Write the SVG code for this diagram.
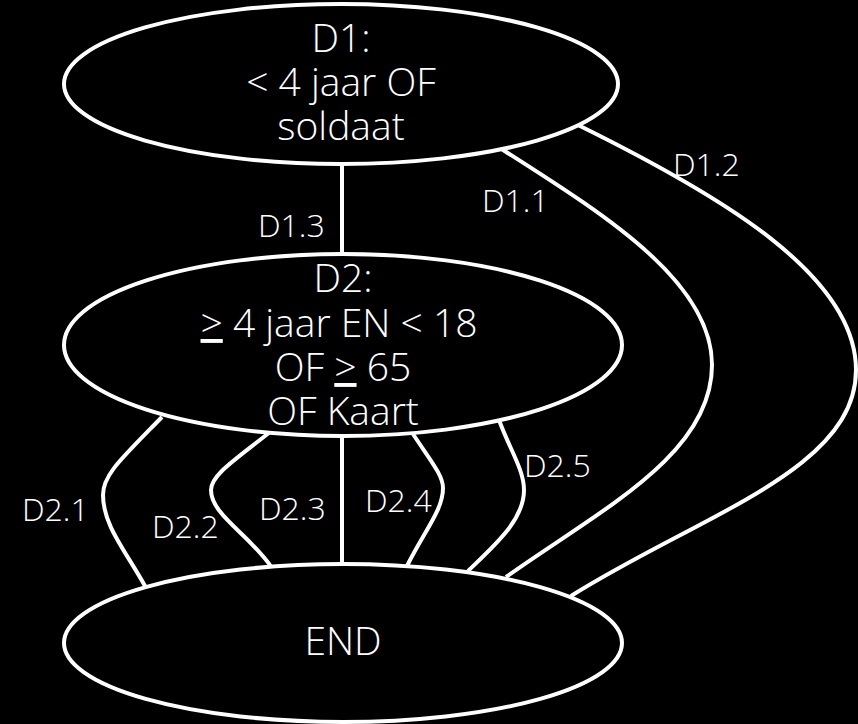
<svg xmlns="http://www.w3.org/2000/svg" width="858" height="724" viewBox="0 0 858 724">
<style>
.bg{fill:#000}
.node{fill:#000;stroke:#fff;stroke-width:4}
.edge{fill:none;stroke:#fff;stroke-width:4}
.t{font-family:"Open Sans","Liberation Sans",sans-serif;font-weight:300;fill:#fff;font-size:39px;text-anchor:middle}
.l{font-family:"Open Sans","Liberation Sans",sans-serif;font-weight:300;fill:#fff;font-size:32px}
.u{text-decoration:underline}
</style>
<rect class="bg" x="0" y="0" width="858" height="724"/>
<g id="connectors">
<path class="edge" d="M342,160 L342,260"/>
<path class="edge" d="M500,148 C600,212 712,280 712,365 C712,455 600,510 506,577"/>
<path class="edge" d="M578,125 C720,195 856,275 856,370 C856,470 700,515 571,596"/>
<path class="edge" d="M162,417 C120,460 103,475 103,495 C103,525 125,550 145,586"/>
<path class="edge" d="M270,432 C235,460 211,475 211,490 C211,515 250,535 272,568"/>
<path class="edge" d="M342,432 L342,566"/>
<path class="edge" d="M413,434 C430,460 443,475 443,488 C443,510 425,530 407,566"/>
<path class="edge" d="M499,420 C510,450 524,470 524,490 C524,520 495,545 468,571"/>
<text class="l" x="258" y="237">D1.3</text>
<text class="l" x="482" y="212">D1.1</text>
<text class="l" x="673" y="176">D1.2</text>
<text class="l" x="22" y="521">D2.1</text>
<text class="l" x="152" y="538">D2.2</text>
<text class="l" x="259" y="520">D2.3</text>
<text class="l" x="365" y="512">D2.4</text>
<text class="l" x="524" y="477">D2.5</text>
</g>
<g id="D1">
<ellipse class="node" cx="341" cy="84" rx="277" ry="80"/>
<text class="t" x="341" y="52">D1:</text>
<text class="t" x="341" y="96">&lt; 4 jaar OF</text>
<text class="t" x="341" y="140">soldaat</text>
</g>
<g id="D2">
<ellipse class="node" cx="343" cy="345" rx="279" ry="91"/>
<text class="t" x="343" y="292">D2:</text>
<text class="t" x="339" y="337"><tspan class="u">&gt;</tspan> 4 jaar EN &lt; 18</text>
<text class="t" x="343" y="381">OF <tspan class="u">&gt;</tspan> 65</text>
<text class="t" x="343" y="425">OF Kaart</text>
</g>
<g id="END">
<ellipse class="node" cx="343" cy="643" rx="279" ry="79"/>
<text class="t" x="343" y="655">END</text>
</g>
</svg>
